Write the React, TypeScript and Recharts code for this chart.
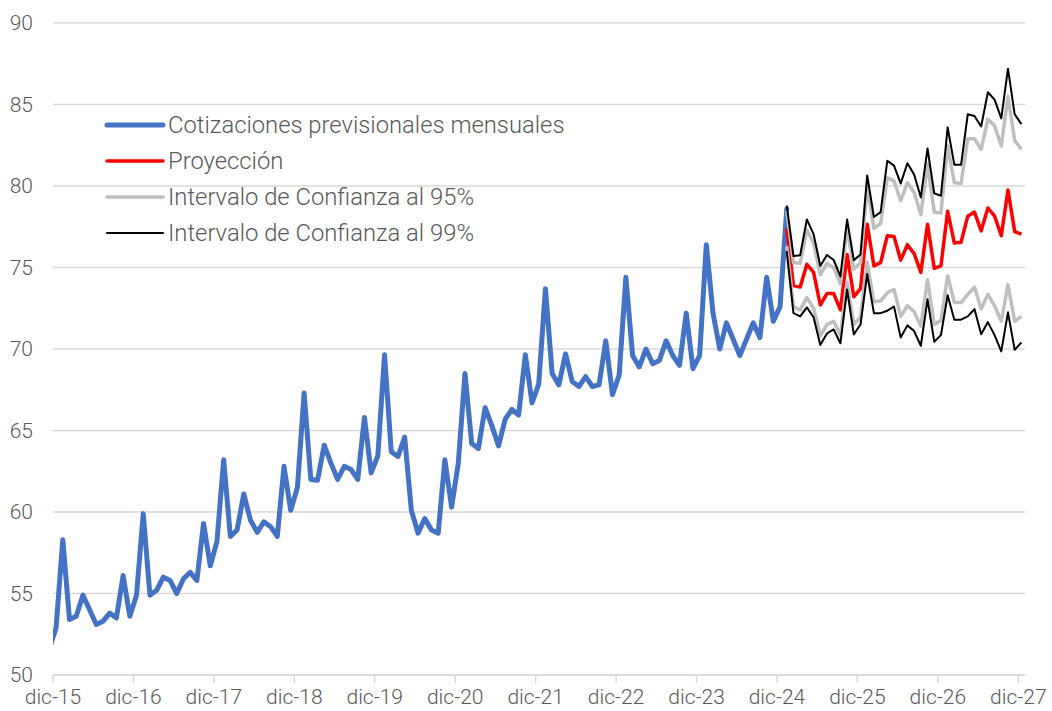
import React from 'react';
import { LineChart, Line, XAxis, YAxis, CartesianGrid, Legend } from 'recharts';

// Month names (Spanish abbreviations)
const MESES = ['ene', 'feb', 'mar', 'abr', 'may', 'jun', 'jul', 'ago', 'sep', 'oct', 'nov', 'dic'];

// Categories: nov-15 ... dic-27 (monthly, plotted at mid-month)
const categorias: string[] = Array.from({ length: 146 }, (_, i) => {
  const idx = 10 + i;
  return `${MESES[idx % 12]}-${15 + Math.floor(idx / 12)}`;
});

// X tick labels (every December)
const xTickLabels = ['dic-15', 'dic-16', 'dic-17', 'dic-18', 'dic-19', 'dic-20', 'dic-21', 'dic-22', 'dic-23', 'dic-24', 'dic-25', 'dic-26', 'dic-27'];
const xTicks = [0, 12, 24, 36, 48, 60, 72, 84, 96, 108, 120, 132, 144];
const yTicks = [50, 55, 60, 65, 70, 75, 80, 85, 90];

// Observed series: nov-15 ... ene-25
const cotizaciones = [
  51.6, 52.9, 58.3, 53.4, 53.6, 54.9, 54.0, 53.1, 53.3, 53.8, 53.5, 56.1,
  53.6, 54.9, 59.9, 54.9, 55.2, 56.0, 55.8, 55.0, 55.9, 56.3, 55.8, 59.3,
  56.7, 58.2, 63.2, 58.5, 58.9, 61.1, 59.5, 58.75, 59.4, 59.1, 58.5, 62.8,
  60.1, 61.5, 67.3, 62.0, 61.95, 64.1, 63.0, 62.0, 62.8, 62.6, 62.0, 65.8,
  62.4, 63.45, 69.65, 63.7, 63.4, 64.6, 60.1, 58.7, 59.6, 58.9, 58.7, 63.2,
  60.3, 63.0, 68.5, 64.2, 63.9, 66.4, 65.3, 64.05, 65.7, 66.3, 65.95, 69.65,
  66.7, 67.85, 73.7, 68.5, 67.8, 69.7, 68.0, 67.7, 68.3, 67.7, 67.8, 70.5,
  67.2, 68.4, 74.4, 69.6, 68.9, 70.0, 69.1, 69.3, 70.5, 69.6, 69.0, 72.2,
  68.8, 69.6, 76.4, 72.2, 70.0, 71.6, 70.6, 69.6, 70.6, 71.6, 70.7, 74.4,
  71.7, 72.6, 78.6,
];

// Projection series: ene-25 ... dic-27
const PROJ_START = 110;
const proyeccion = [
  77.4, 73.9, 73.8, 75.2, 74.7, 72.7, 73.4, 73.4, 72.4, 75.8, 73.2, 73.7,
  77.65, 75.1, 75.3, 76.95, 76.9, 75.45, 76.4, 75.85, 74.7, 77.65, 74.95, 75.1,
  78.45, 76.5, 76.55, 78.15, 78.4, 77.25, 78.65, 78.15, 76.95, 79.75, 77.2, 77.05,
];
const ic95Sup = [
  78.5, 75.3, 75.25, 77.3, 76.5, 74.55, 75.25, 75.0, 74.0, 77.45, 74.9, 75.3,
  79.95, 77.4, 77.7, 80.5, 80.3, 79.1, 80.2, 79.6, 78.25, 81.35, 78.4, 78.35,
  82.45, 80.2, 80.15, 82.9, 82.9, 82.25, 84.1, 83.7, 82.45, 85.5, 82.8, 82.25,
];
const ic95Inf = [
  76.3, 72.6, 72.4, 73.15, 72.5, 70.8, 71.5, 71.7, 70.85, 74.1, 71.5, 71.95,
  75.3, 72.9, 72.95, 73.45, 73.65, 72.0, 72.65, 72.3, 71.4, 74.25, 71.5, 71.75,
  74.5, 72.85, 72.85, 73.35, 73.8, 72.45, 73.35, 72.65, 71.7, 73.95, 71.7, 72.0,
];
const ic99Sup = [
  78.8, 75.7, 75.75, 77.95, 77.05, 75.1, 75.77, 75.46, 74.45, 77.95, 75.45, 75.8,
  80.65, 78.1, 78.4, 81.55, 81.25, 80.15, 81.4, 80.7, 79.3, 82.3, 79.55, 79.4,
  83.6, 81.3, 81.3, 84.4, 84.3, 83.65, 85.75, 85.3, 84.15, 87.2, 84.4, 83.8,
];
const ic99Inf = [
  76.0, 72.2, 72.0, 72.55, 71.95, 70.25, 70.95, 71.2, 70.35, 73.65, 70.9, 71.5,
  74.6, 72.2, 72.2, 72.35, 72.6, 70.7, 71.45, 71.1, 70.2, 73.05, 70.45, 70.85,
  73.3, 71.8, 71.8, 72.0, 72.45, 70.9, 71.65, 70.85, 69.85, 72.25, 69.95, 70.4,
];

const data = categorias.map((mes, i) => {
  const p = i - PROJ_START;
  const inProj = p >= 0 && p < proyeccion.length;
  return {
    mes,
    t: i - 0.54, // months since 1-dic-15, at mid-month
    cot: i < cotizaciones.length ? cotizaciones[i] : null,
    proy: inProj ? proyeccion[p] : null,
    s95: inProj ? ic95Sup[p] : null,
    i95: inProj ? ic95Inf[p] : null,
    s99: inProj ? ic99Sup[p] : null,
    i99: inProj ? ic99Inf[p] : null,
  };
});

const TEXT = '#595959';
const FONT = 'Roboto, "Noto Sans", sans-serif';

const legendItems = [
  { label: 'Cotizaciones previsionales mensuales', color: '#4472C4', width: 5 },
  { label: 'Proyección', color: '#FF0000', width: 3.5 },
  { label: 'Intervalo de Confianza al 95%', color: '#BFBFBF', width: 3.5 },
  { label: 'Intervalo de Confianza al 99%', color: '#000000', width: 2 },
];

const LegendBox = () => (
  <div style={{ display: 'flex', flexDirection: 'column' }}>
    {legendItems.map((it) => (
      <div key={it.label} style={{ display: 'flex', alignItems: 'center', height: 36 }}>
        <svg width={62} height={10} style={{ display: 'block' }}>
          <line x1={3} x2={59} y1={5} y2={5} stroke={it.color} strokeWidth={it.width} strokeLinecap="round" />
        </svg>
        <span style={{ fontFamily: FONT, fontWeight: 300, fontSize: 23.8, color: TEXT, marginLeft: 2, whiteSpace: 'nowrap', lineHeight: '36px' }}>
          {it.label}
        </span>
      </div>
    ))}
  </div>
);

export default function App() {
  return (
    <div style={{ position: 'absolute', left: 0, top: 0, width: 1052, height: 711, background: '#ffffff' }}>
      <LineChart width={1052} height={711} data={data} margin={{ top: 23, right: 27, bottom: 0, left: 0 }}>
        <CartesianGrid vertical={false} stroke="#d9d9d9" strokeWidth={1.5} />
        <XAxis
          type="number"
          dataKey="t"
          domain={[0, 145]}
          ticks={xTicks}
          allowDataOverflow
          interval={0}
          height={36}
          tickFormatter={(v: number) => xTickLabels[xTicks.indexOf(v)] ?? ''}
          stroke="#d9d9d9"
          strokeWidth={1.5}
          tickSize={8}
          tickMargin={6}
          tick={{ fill: TEXT, fontSize: 21, fontFamily: FONT, fontWeight: 300 }}
        />
        <YAxis
          type="number"
          domain={[50, 90]}
          ticks={yTicks}
          width={53}
          axisLine={false}
          tickLine={false}
          tickSize={0}
          tickMargin={20}
          interval={0}
          tick={{ fill: TEXT, fontSize: 21, fontFamily: FONT, fontWeight: 300 }}
        />
        <Legend
          layout="vertical"
          align="center"
          verticalAlign="middle"
          wrapperStyle={{ left: 104, top: 107, width: 600 }}
          content={() => <LegendBox />}
        />
        <Line dataKey="cot" stroke="#4472C4" strokeWidth={5} dot={false} activeDot={false} strokeLinejoin="round" strokeLinecap="round" isAnimationActive={false} />
        <Line dataKey="proy" stroke="#FF0000" strokeWidth={3.5} dot={false} activeDot={false} strokeLinejoin="round" isAnimationActive={false} />
        <Line dataKey="s95" stroke="#BFBFBF" strokeWidth={3.5} dot={false} activeDot={false} strokeLinejoin="round" isAnimationActive={false} />
        <Line dataKey="i95" stroke="#BFBFBF" strokeWidth={3.5} dot={false} activeDot={false} strokeLinejoin="round" isAnimationActive={false} />
        <Line dataKey="s99" stroke="#000000" strokeWidth={2} dot={false} activeDot={false} strokeLinejoin="round" isAnimationActive={false} />
        <Line dataKey="i99" stroke="#000000" strokeWidth={2} dot={false} activeDot={false} strokeLinejoin="round" isAnimationActive={false} />
      </LineChart>
    </div>
  );
}
